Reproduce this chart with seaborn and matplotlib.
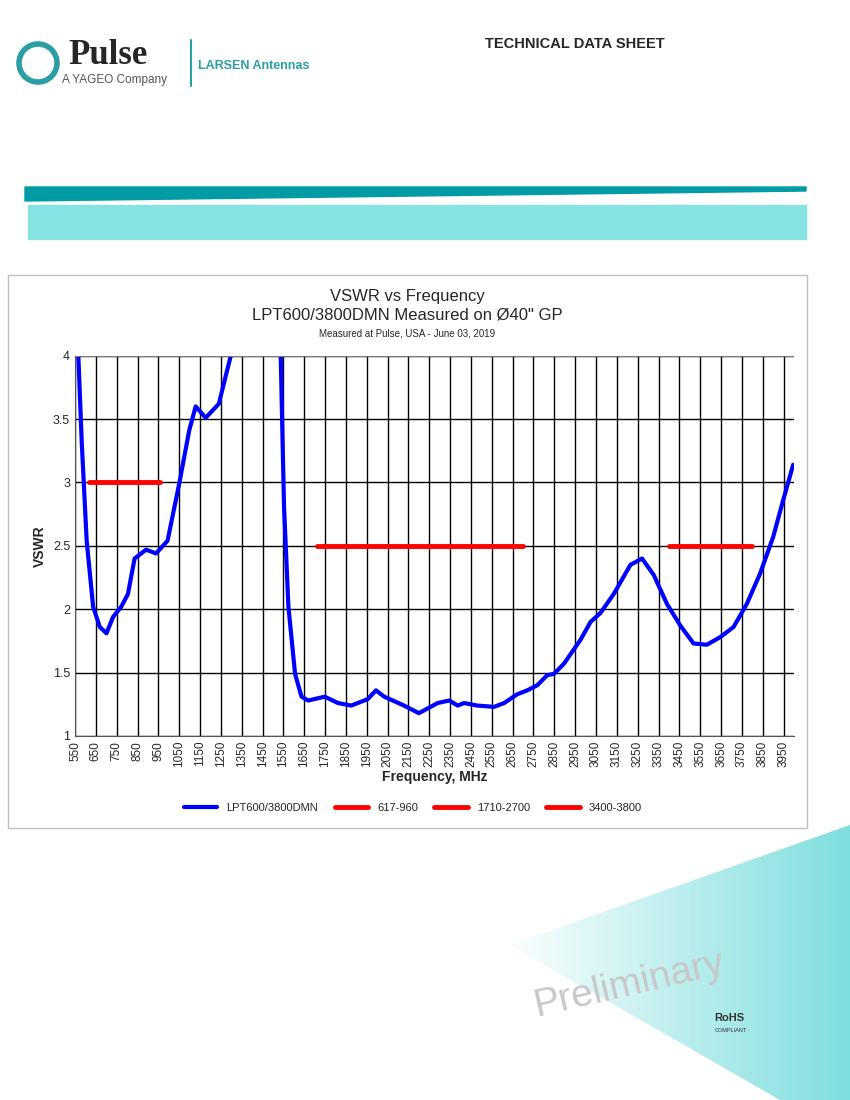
import numpy as np
import pandas as pd
import matplotlib
matplotlib.use("Agg")
import matplotlib.pyplot as plt
import seaborn as sns
from matplotlib.patches import Polygon, Rectangle

freq_a = [566, 582, 606, 637, 669, 701, 733, 772, 804, 836, 891, 939, 994, 1050, 1098, 1129, 1177, 1240, 1296, 1310]
vswr_a = [4.0, 3.33, 2.54, 2.02, 1.86, 1.81, 1.94, 2.02, 2.12, 2.40, 2.47, 2.44, 2.54, 2.99, 3.41, 3.60, 3.51, 3.62, 3.99, 4.1]
freq_b = [1530, 1537, 1553, 1574, 1606, 1637, 1669, 1748, 1812, 1875, 1954, 1994, 2034, 2129, 2200,
          2290, 2346, 2386, 2417, 2481, 2561, 2609, 2673, 2720, 2768, 2816, 2848, 2896, 2976, 3024,
          3071, 3135, 3215, 3271, 3327, 3391, 3455, 3518, 3582, 3646, 3710, 3773, 3837, 3900, 3948, 3996]
vswr_b = [4.1, 4.0, 2.81, 2.02, 1.49, 1.31, 1.28, 1.31, 1.26, 1.24, 1.29, 1.36, 1.31, 1.24, 1.18,
          1.26, 1.28, 1.24, 1.26, 1.24, 1.23, 1.26, 1.33, 1.36, 1.40, 1.48, 1.49, 1.57, 1.76, 1.90,
          1.97, 2.12, 2.35, 2.40, 2.27, 2.04, 1.87, 1.73, 1.72, 1.78, 1.86, 2.04, 2.28, 2.57, 2.86, 3.14]
bands = [("617-960", 617, 960, 3.0), ("1710-2700", 1710, 2700, 2.5), ("3400-3800", 3400, 3800, 2.5)]
xticks = list(range(550, 4000, 100))
yticks = [1, 1.5, 2, 2.5, 3, 3.5, 4]

sns.set_style("white")
plt.rcParams['font.family'] = ['Liberation Sans', 'DejaVu Sans']

fig = plt.figure(figsize=(8.5, 11), dpi=100)

bg = fig.add_axes([0, 0, 1, 1], zorder=0)
bg.set_xlim(0, 850); bg.set_ylim(1100, 0); bg.axis("off")
grad = np.linspace(0, 1, 256).reshape(1, -1)
im = bg.imshow(np.repeat(grad, 2, axis=0), extent=[500, 850, 1100, 820], cmap=matplotlib.colors.LinearSegmentedColormap.from_list("g", ["#ffffff", "#7fdede"]), aspect="auto", zorder=0)
tri = Polygon([[510, 945], [850, 825], [850, 1100], [780, 1100]], closed=True, transform=bg.transData, facecolor="none", edgecolor="none")
bg.add_patch(tri)
im.set_clip_path(tri)
bg.add_patch(Polygon([[25, 187], [806, 187], [806, 191], [25, 201]], closed=True, color="#009ba4"))
bg.add_patch(Rectangle((28, 205), 778, 34, color="#87e3e1"))
bg.add_patch(Rectangle((8, 275), 799, 553, facecolor="white", edgecolor="#c0c0c0", lw=1))
bg.text(575, 44, "TECHNICAL DATA SHEET", fontsize=10.5, weight="bold", ha="center", va="center")
bg.text(68, 55, "Pulse", fontsize=25, weight="bold", family="Liberation Serif", va="center")
bg.text(62, 80, "A YAGEO Company", fontsize=8.5, color="#555555", va="center")
bg.plot([191, 191], [40, 86], color="#2a9ea4", lw=1.5)
bg.text(198, 66, "LARSEN Antennas", fontsize=9, color="#2a9ea4", weight="bold", va="center")
bg.add_patch(matplotlib.patches.Circle((38, 63), 19, fill=False, edgecolor="#2a9ea4", lw=4))
bg.text(630, 985, "Preliminary", fontsize=28, rotation=13, color="#c8c8c8", ha="center", va="center")
bg.text(729, 1021, "RoHS", fontsize=8, weight="bold", color="#333333", ha="center")
bg.text(731, 1032, "COMPLIANT", fontsize=4, color="#333333", ha="center")

bg.text(407, 297, "VSWR vs Frequency", fontsize=12, ha="center", va="center")
bg.text(407, 315, "LPT600/3800DMN Measured on Ø40\" GP", fontsize=12, ha="center", va="center")
bg.text(407, 333, "Measured at Pulse, USA - June 03, 2019", fontsize=7, ha="center", va="center")

ax = fig.add_axes([75/850, 1-736/1100, (794-75)/850, (736-355.7)/1100], zorder=2)
ax.patch.set_alpha(0)
df_a = pd.DataFrame({"f": freq_a, "v": vswr_a})
df_b = pd.DataFrame({"f": freq_b, "v": vswr_b})
sns.lineplot(data=df_a, x="f", y="v", ax=ax, color="#0000ff", lw=3, sort=False, label="LPT600/3800DMN")
sns.lineplot(data=df_b, x="f", y="v", ax=ax, color="#0000ff", lw=3, sort=False)
for name, a, b, y in bands:
    sns.lineplot(x=[a, b], y=[y, y], ax=ax, color="#ff0000", lw=3.5, label=name)
ax.set_xlim(550, 4000)
ax.set_ylim(1, 4)
ax.set_xticks(xticks)
ax.set_xticklabels([str(t) for t in xticks], rotation=90, fontsize=8.5)
ax.set_yticks(yticks)
ax.set_yticklabels(["1", "1.5", "2", "2.5", "3", "3.5", "4"], fontsize=9)
ax.grid(True, color="#000000", lw=1)
ax.set_axisbelow(True)
for s in ["left", "bottom", "top", "right"]:
    ax.spines[s].set_visible(s in ("left", "bottom"))
ax.spines["left"].set_color("#555555"); ax.spines["bottom"].set_color("#555555")
ax.axhline(4, color="#777777", lw=1.5)
ax.tick_params(length=0)
ax.set_xlabel("Frequency, MHz", fontsize=10, weight="bold", labelpad=2)
ax.set_ylabel("VSWR", fontsize=10, weight="bold")
ax.legend(loc="upper center", bbox_to_anchor=(0.47, -0.15), ncol=4, frameon=False, fontsize=8,
          handlelength=3, columnspacing=1.5)

fig.savefig("out.png", dpi=100)
